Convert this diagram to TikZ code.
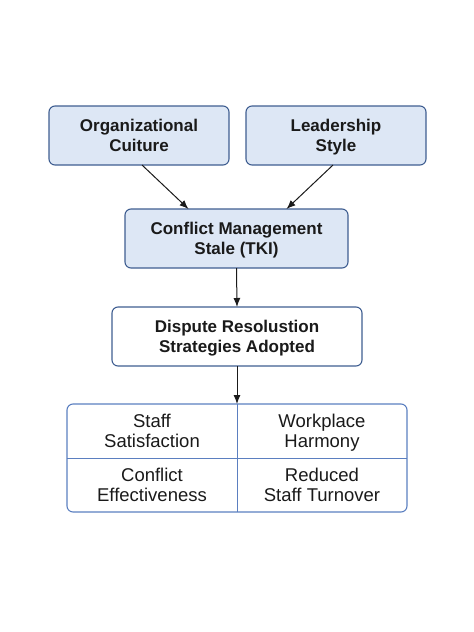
\documentclass[tikz,border=0pt]{standalone}
\usepackage{fontspec}
\setmainfont{Liberation Sans}
\usetikzlibrary{positioning}
\usetikzlibrary{arrows.meta}
\definecolor{boxfill}{HTML}{DDE7F5}
\definecolor{boxline}{HTML}{3F5E91}
\definecolor{gridline}{HTML}{5B7FC0}
\definecolor{ink}{HTML}{1A1A1A}

\begin{document}
\begin{tikzpicture}[x=1pt,y=-1pt,>={Latex[length=9pt,width=7pt]},
	factor/.style={minimum width=180pt,minimum height=59pt,outer sep=0pt,draw=boxline,fill=boxfill,rounded corners=6pt,line width=1.1pt,align=center,text=ink,text depth=0pt,font=\fontsize{17}{20}\selectfont\bfseries},
	cell/.style={minimum width=170pt,minimum height=54pt,outer sep=0pt,align=center,text=ink,text depth=0pt,font=\fontsize{18.5}{19.5}\selectfont},
	link/.style={->,line width=1pt,draw=ink}]
	\useasboundingbox (0,0) rectangle (474,632);
	\node [factor] at (139,135.5) (org) {Organizational\\Cuiture};
	\node [factor] at (336,135.5) (lead) {Leadership\\Style};
	\node [factor,minimum width=223pt] at (236.5,238.5) (tki) {Conflict Management\\Stale (TKI)};
	\node [factor,minimum width=250pt,fill=white] at (237,336.5) (drs) {Dispute Resolustion\\Strategies Adopted};

	\node [minimum width=340pt,minimum height=108pt,outer sep=0pt,draw=gridline,rounded corners=6pt,line width=1.1pt] at (237,458) (grid) {};
	\draw [gridline,line width=1pt] (grid.north) -- (grid.south);
	\draw [gridline,line width=1pt] (grid.west) -- (grid.east);
	\node [cell,anchor=south east] at (grid.center) (sat) {Staff\\Satisfaction};
	\node [cell,anchor=south west] at (grid.center) (harm) {Workplace\\Harmony};
	\node [cell,anchor=north east] at (grid.center) (eff) {Conflict\\Effectiveness};
	\node [cell,anchor=north west] at (grid.center) (turn) {Reduced\\Staff Turnover};

	\draw [link] ([xshift=3pt]org.south) -- ([xshift=-48pt]tki.north);
	\draw [link] ([xshift=-3pt]lead.south) -- ([xshift=50pt]tki.north);
	\draw [link] (tki.south) -- (drs.north);
	\draw [link] (drs.south) -- (grid.north);
\end{tikzpicture}
\end{document}
